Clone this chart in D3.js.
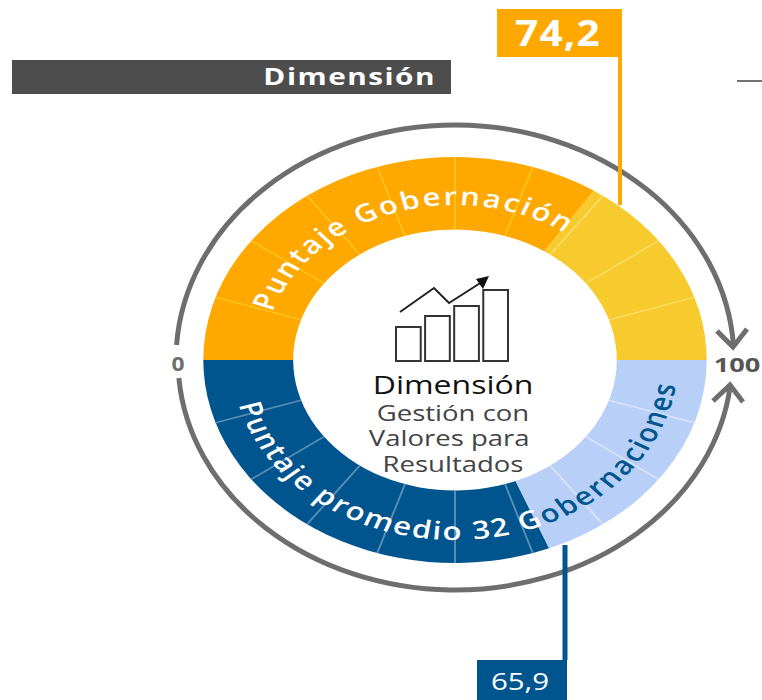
<!DOCTYPE html>
<html>
<head>
<meta charset="utf-8">
<script src="https://cdn.jsdelivr.net/npm/d3@7"></script>
<style>
body { margin: 0; background: #fff; }
svg { display: block; }
text { font-family: "Open Sans", sans-serif; }
</style>
</head>
<body>
<div id="chart"></div>
<script>
// values printed on the flags
var govLabel = "74,2";
var avgLabel = "65,9";
// where the picture actually ends each fill, on the 0-100 ring (not the same as the printed value)
var govDrawn = 68.6;
var avgDrawn = 62.2;
var ringTicks = [10, 20, 30, 40, 50, 60, 70, 80, 90];
var scaleEnds = ["0", "100"];
var centerTitle = "Dimensión";
var centerLines = ["Gestión con", "Valores para", "Resultados"];
var iconBars = [34, 45, 55, 71];
var iconTrend = [[0, 49], [34, 73], [49, 58], [85, 81]];

var W = 762, H = 700, cx = 455, cy = 360, sx = 1.24;
var rOut = 203, rIn = 130.5;

var svg = d3.select("#chart").append("svg").attr("width", W).attr("height", H);

var top_ = d3.scaleLinear().domain([0, 100]).range([-Math.PI / 2, Math.PI / 2]);
var bot = d3.scaleLinear().domain([0, 100]).range([3 * Math.PI / 2, Math.PI / 2]);
var arc = d3.arc().innerRadius(rIn).outerRadius(rOut);

// the ring is a circle pulled sideways, like the source picture
var ring = svg.append("g").attr("transform", "translate(" + cx + "," + cy + ") scale(" + sx + ",1)");

function band(scale, a, b, col) {
    ring.append("path")
        .attr("d", arc({startAngle: scale(a), endAngle: scale(b)}))
        .attr("fill", col);
}
band(top_, 0, govDrawn, "#ffa800");
band(top_, govDrawn, 100, "#f7ca2d");
band(bot, 0, avgDrawn, "#00558f");
band(bot, avgDrawn, 100, "#b8cff7");

function tick(scale, v, col) {
    var a = scale(v) - Math.PI / 2;
    ring.append("line")
        .attr("x1", rIn * Math.cos(a)).attr("y1", rIn * Math.sin(a))
        .attr("x2", rOut * Math.cos(a)).attr("y2", rOut * Math.sin(a))
        .attr("stroke", col).attr("stroke-width", 1.6);
}
ringTicks.forEach(function (v) {
    tick(top_, v, v < govDrawn ? "#ffc21a" : "#f9da62");
    tick(bot, v, v < avgDrawn ? "#5b8db4" : "#d8e3f8");
});

// guide circles for the curved text
var defs = svg.append("defs");
function guide(id, scale, r, sweep) {
    var a0 = scale(0) - Math.PI / 2, a1 = scale(100) - Math.PI / 2;
    defs.append("path").attr("id", id).attr("d",
        "M" + r * Math.cos(a0) + "," + r * Math.sin(a0) +
        "A" + r + "," + r + " 0 0 " + sweep + " " + r * Math.cos(a1) + "," + r * Math.sin(a1));
}
guide("gTop", top_, 155, 1);
guide("gBot", bot, 180, 0);

ring.append("text").attr("font-size", 25).attr("font-weight", 600).attr("fill", "#fff")
    .attr("letter-spacing", 1.9)
    .append("textPath").attr("href", "#gTop").attr("startOffset", "10%")
    .text("Puntaje Gobernación");

var low = ring.append("text").attr("font-size", 25).attr("font-weight", 600).attr("letter-spacing", 1.7)
    .append("textPath").attr("href", "#gBot").attr("startOffset", "8%");
low.append("tspan").attr("fill", "#fff").text("Puntaje promedio 32 G");
low.append("tspan").attr("fill", "#00558f").text("obernaciones");

// outer sweep lines with arrowheads, end points worked out on each ellipse
function sweepArc(rx, ry, yL, yR, up) {
    var xAt = function (y) { return rx * Math.sqrt(1 - Math.pow((y - cy) / ry, 2)); };
    return "M" + (cx - xAt(yL)) + "," + yL + "A" + rx + "," + ry + " 0 0 " + (up ? 1 : 0) + " " + (cx + xAt(yR)) + "," + yR;
}
var sweep = svg.append("g").attr("fill", "none").attr("stroke", "#6e6e6e").attr("stroke-width", 5);
sweep.append("path").attr("d", sweepArc(279, 235, 345, 346, true));
sweep.append("path").attr("d", sweepArc(277, 230, 378, 386, false));
sweep.append("path").attr("d", "M717,331L733,347L747,329");
sweep.append("path").attr("d", "M713,401L730,385L743,402");

svg.append("text").attr("transform", "translate(178,371) scale(1.2,1)").attr("text-anchor", "middle")
    .attr("font-size", 19).attr("font-weight", 700).attr("fill", "#6e6e6e").text(scaleEnds[0]);
svg.append("text").attr("transform", "translate(737,372) scale(1.36,1)").attr("text-anchor", "middle")
    .attr("font-size", 20).attr("font-weight", 700).attr("fill", "#555").text(scaleEnds[1]);

// header bar
svg.append("rect").attr("x", 12).attr("y", 60).attr("width", 439).attr("height", 34).attr("fill", "#4d4d4d");
svg.append("text").attr("transform", "translate(436,85) scale(1.24,1)").attr("text-anchor", "end")
    .attr("font-size", 24).attr("font-weight", 700).attr("letter-spacing", 1.2).attr("fill", "#fff").text("Dimensión");
svg.append("line").attr("x1", 737).attr("x2", 762).attr("y1", 81).attr("y2", 81)
    .attr("stroke", "#444").attr("stroke-width", 1.5);

// value flags
svg.append("rect").attr("x", 497).attr("y", 9).attr("width", 125).attr("height", 48).attr("fill", "#ffa800");
svg.append("line").attr("x1", 620).attr("x2", 620).attr("y1", 57).attr("y2", 205)
    .attr("stroke", "#ffa800").attr("stroke-width", 4);
svg.append("text").attr("transform", "translate(558,46) scale(1.16,1)").attr("text-anchor", "middle")
    .attr("font-size", 35).attr("font-weight", 700).attr("letter-spacing", 1).attr("fill", "#fff").text(govLabel);

svg.append("rect").attr("x", 477).attr("y", 660).attr("width", 90).attr("height", 40).attr("fill", "#00558f");
svg.append("line").attr("x1", 565).attr("x2", 565).attr("y1", 545).attr("y2", 660)
    .attr("stroke", "#00558f").attr("stroke-width", 5);
svg.append("text").attr("transform", "translate(520,690) scale(1.28,1)").attr("text-anchor", "middle")
    .attr("font-size", 23).attr("fill", "#fff").text(avgLabel);

// center icon
var iconX = d3.scaleBand().domain(d3.range(iconBars.length)).range([396, 508]).paddingInner(0.15);
var iconY = d3.scaleLinear().domain([0, 71]).range([361, 290]);
svg.append("g").selectAll("rect").data(iconBars).enter().append("rect")
    .attr("x", function (d, i) { return iconX(i); })
    .attr("y", function (d) { return iconY(d); })
    .attr("width", iconX.bandwidth())
    .attr("height", function (d) { return 361 - iconY(d); })
    .attr("fill", "#fff").attr("stroke", "#333").attr("stroke-width", 2);
svg.append("path")
    .attr("d", d3.line().x(function (d) { return 400 + d[0]; }).y(function (d) { return iconY(d[1]); })(iconTrend))
    .attr("fill", "none").attr("stroke", "#222").attr("stroke-width", 2);
svg.append("path").attr("d", "M489,276L476,279L483,289Z").attr("fill", "#111");

// center text, one block with the sideways stretch of the source
var block = svg.append("text").attr("transform", "translate(453,0) scale(1.28,1)").attr("text-anchor", "middle");
block.append("tspan").attr("x", 0).attr("y", 394).attr("font-size", 25).attr("fill", "#111").text(centerTitle);
centerLines.forEach(function (t, i) {
    block.append("tspan").attr("x", [0, -3, 0][i]).attr("y", 421 + i * 25.5)
        .attr("font-size", 21.5).attr("fill", "#444").text(t);
});
</script>
</body>
</html>
